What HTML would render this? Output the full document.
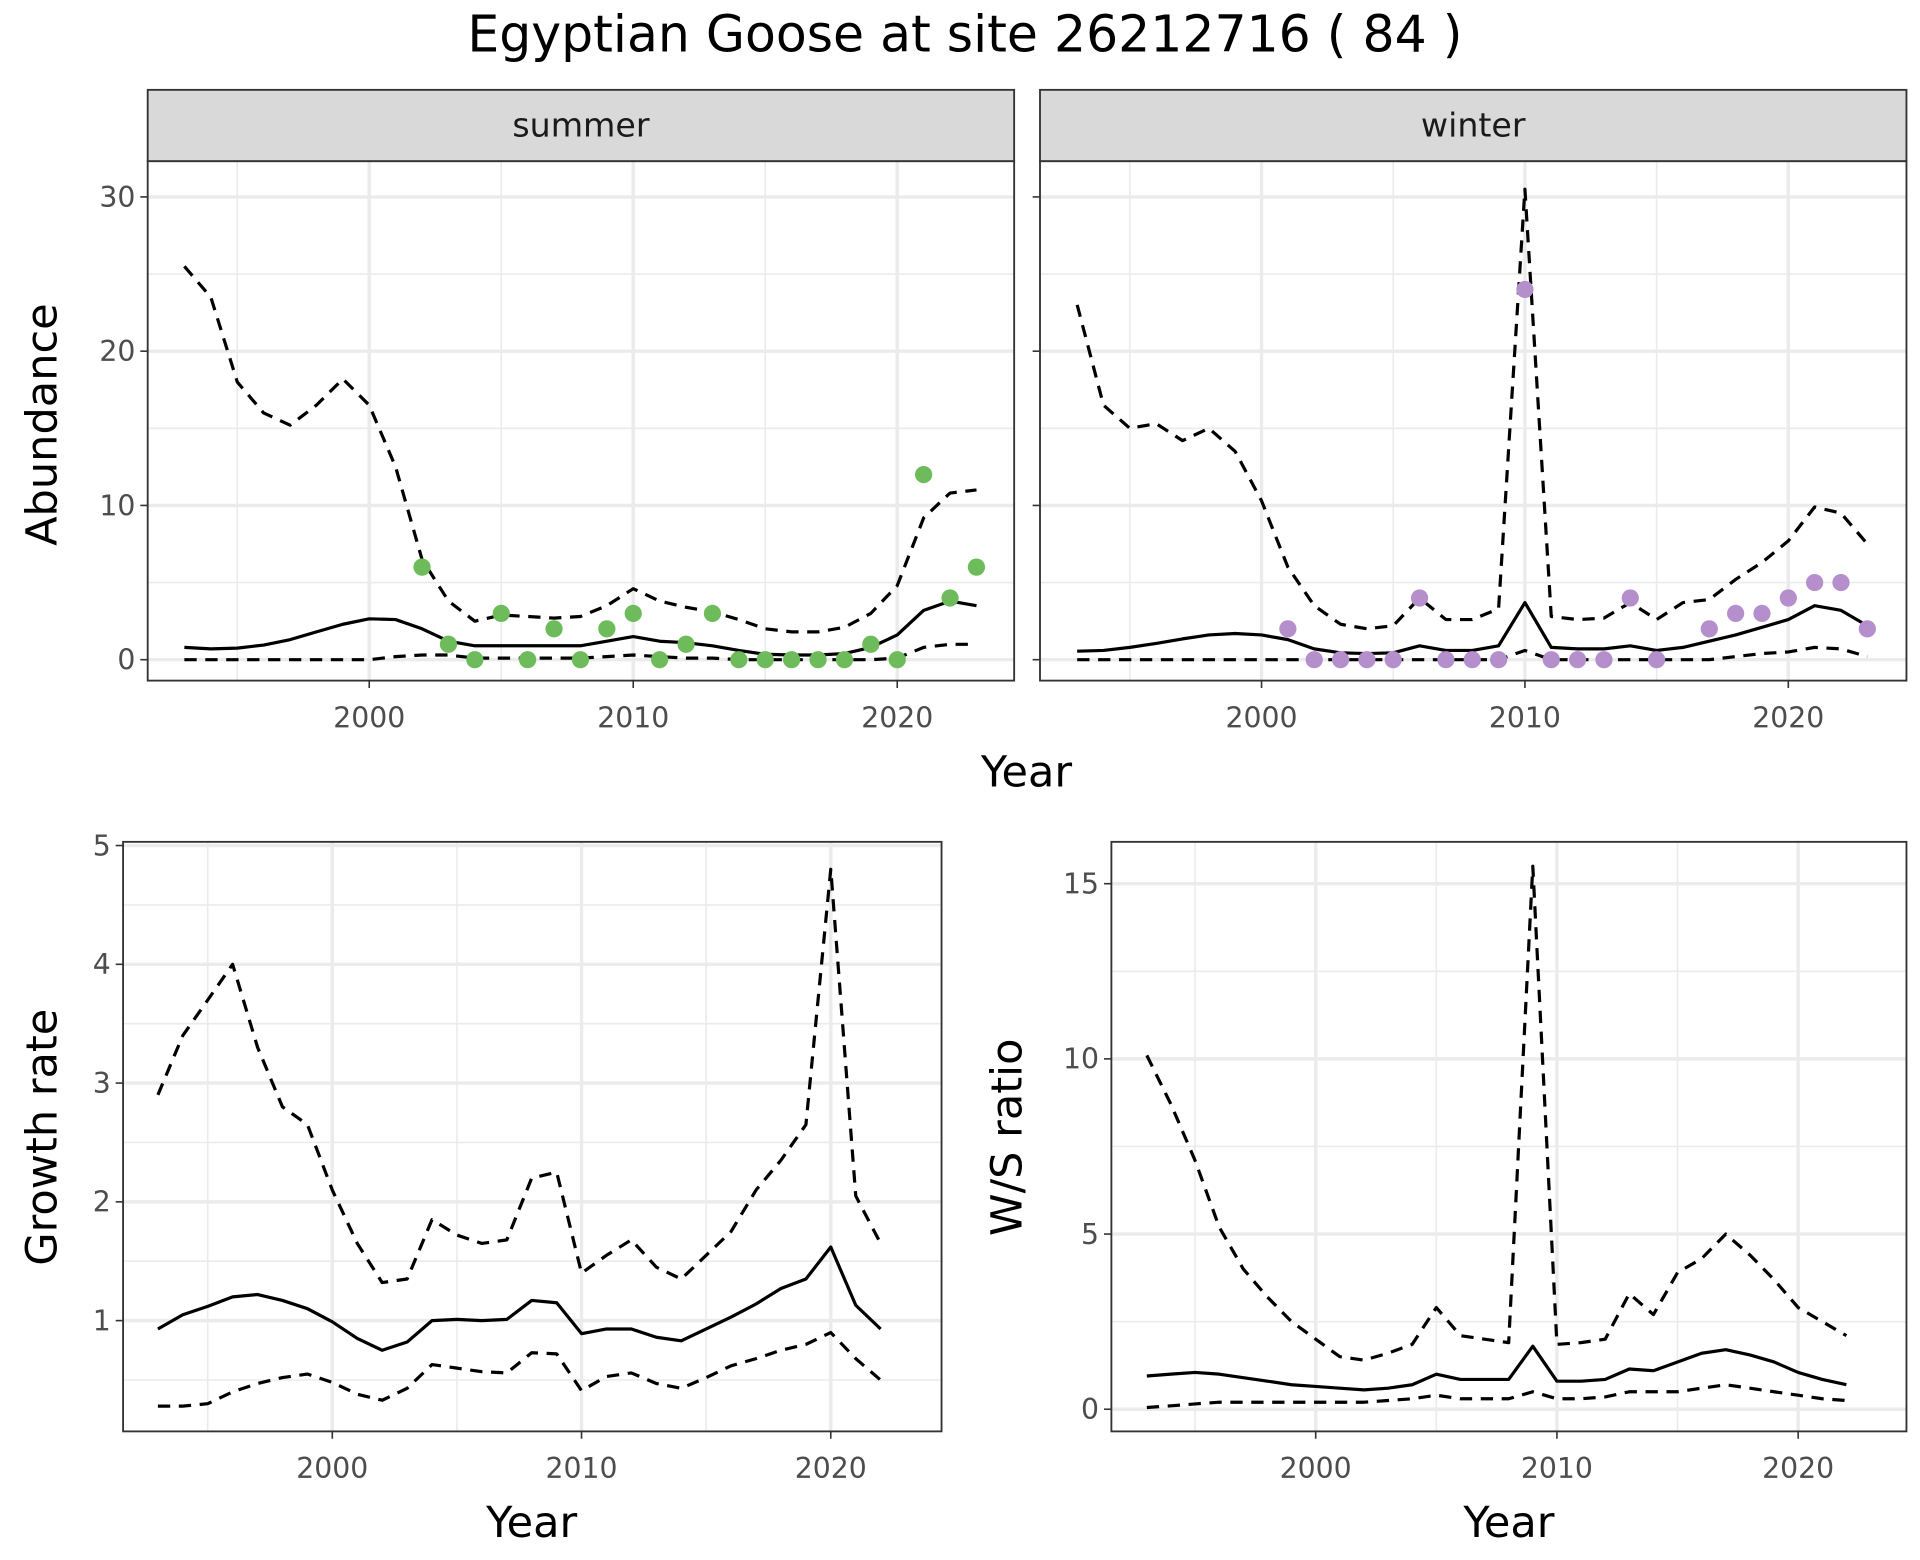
<!DOCTYPE html>
<html><head><meta charset="utf-8"><style>
html,body{margin:0;padding:0;background:#fff}
svg{display:block;font-family:"DejaVu Sans","Liberation Sans",sans-serif}
</style></head><body>
<svg id="chart" width="1920" height="1560" viewBox="0 0 1560 1267.5" xmlns="http://www.w3.org/2000/svg">
<rect width="1560" height="1267.5" fill="#fff"/>
<text x="784" y="42" font-size="41" text-anchor="middle" fill="#000">Egyptian Goose at site 26212716 ( 84 )</text>
</svg>
<script>
// ---- data ----
const yearsAbund = [1993,1994,1995,1996,1997,1998,1999,2000,2001,2002,2003,2004,2005,2006,2007,2008,2009,2010,2011,2012,2013,2014,2015,2016,2017,2018,2019,2020,2021,2022,2023];
const summerUpper = [25.5,23.5,18,16,15.2,16.5,18.2,16.5,12.5,6.5,3.8,2.5,2.9,2.8,2.7,2.8,3.5,4.6,3.8,3.4,3.1,2.6,2.0,1.8,1.8,2.1,3.0,4.8,9.2,10.8,11.0];
const summerMean = [0.8,0.7,0.75,0.95,1.3,1.8,2.3,2.65,2.6,2.0,1.2,0.9,0.9,0.9,0.9,0.9,1.2,1.5,1.2,1.1,0.9,0.6,0.35,0.3,0.3,0.4,0.8,1.6,3.2,3.8,3.5];
const summerLower = [0,0,0,0,0,0,0,0,0.2,0.3,0.3,0.1,0.1,0.1,0.1,0.1,0.2,0.3,0.2,0.1,0.1,0,0,0,0,0,0,0.1,0.8,1.0,1.0];
const summerPtYears = [2002,2003,2004,2005,2006,2007,2008,2009,2010,2011,2012,2013,2014,2015,2016,2017,2018,2019,2020,2021,2022,2023];
const summerPtVals = [6,1,0,3,0,2,0,2,3,0,1,3,0,0,0,0,0,1,0,12,4,6];
const winterUpper = [23,16.5,15,15.3,14.2,15,13.5,10.3,6,3.5,2.3,2,2.2,4,2.6,2.6,3.3,30.5,2.8,2.6,2.7,3.7,2.6,3.7,3.9,5.2,6.3,7.7,9.9,9.5,7.5];
const winterMean = [0.55,0.6,0.8,1.05,1.35,1.6,1.7,1.6,1.3,0.7,0.45,0.4,0.45,0.9,0.6,0.6,0.9,3.7,0.8,0.7,0.7,0.9,0.6,0.8,1.2,1.6,2.1,2.6,3.5,3.2,2.2];
const winterLower = [0,0,0,0,0,0,0,0,0,0,0,0,0,0,0,0,0,0.6,0,0,0,0,0,0,0,0.2,0.4,0.5,0.8,0.7,0.2];
const winterPtYears = [2001,2002,2003,2004,2005,2006,2007,2008,2009,2010,2011,2012,2013,2014,2015,2017,2018,2019,2020,2021,2022,2023];
const winterPtVals = [2,0,0,0,0,4,0,0,0,24,0,0,0,4,0,2,3,3,4,5,5,2];
const yearsRate = [1993,1994,1995,1996,1997,1998,1999,2000,2001,2002,2003,2004,2005,2006,2007,2008,2009,2010,2011,2012,2013,2014,2015,2016,2017,2018,2019,2020,2021,2022];
const growthUpper = [2.9,3.4,3.7,4.0,3.3,2.8,2.65,2.1,1.65,1.32,1.35,1.85,1.72,1.65,1.68,2.2,2.25,1.4,1.55,1.68,1.45,1.35,1.55,1.75,2.1,2.35,2.65,4.8,2.05,1.65];
const growthMean = [0.93,1.05,1.12,1.2,1.22,1.17,1.1,0.99,0.85,0.75,0.82,1.0,1.01,1.0,1.01,1.17,1.15,0.89,0.93,0.93,0.86,0.83,0.93,1.03,1.14,1.27,1.35,1.62,1.13,0.93];
const growthLower = [0.28,0.28,0.3,0.4,0.47,0.52,0.55,0.48,0.38,0.33,0.43,0.63,0.6,0.57,0.56,0.73,0.72,0.41,0.53,0.56,0.47,0.43,0.52,0.62,0.68,0.75,0.8,0.9,0.68,0.5];
const wsUpper = [10.1,8.7,7.1,5.2,4.0,3.2,2.5,2.0,1.5,1.4,1.6,1.85,2.9,2.1,2.0,1.9,15.5,1.85,1.9,2.0,3.3,2.7,3.9,4.3,5.0,4.4,3.7,2.9,2.5,2.1];
const wsMean = [0.95,1.0,1.05,1.0,0.9,0.8,0.7,0.65,0.6,0.55,0.6,0.7,1.0,0.85,0.85,0.85,1.8,0.8,0.8,0.85,1.15,1.1,1.35,1.6,1.7,1.55,1.35,1.05,0.85,0.7];
const wsLower = [0.05,0.1,0.15,0.2,0.2,0.2,0.2,0.2,0.2,0.2,0.25,0.3,0.4,0.3,0.3,0.3,0.5,0.3,0.3,0.35,0.5,0.5,0.5,0.6,0.7,0.6,0.5,0.4,0.3,0.25];
const xTicks = [2000,2010,2020];
const xMinor = [1995,2005,2015];
const abundTicks = [0,10,20,30];
const abundMinor = [5,15,25];
const growthTicks = [1,2,3,4,5];
const growthMinor = [0.5,1.5,2.5,3.5,4.5];
const wsTicks = [0,5,10,15];
const wsMinor = [2.5,7.5,12.5];

const NS = "http://www.w3.org/2000/svg";
const svg = document.getElementById('chart');
const TICK_FS = 23;
function mk(tag, attrs, parent, text){
  const e = document.createElementNS(NS, tag);
  for (const k in attrs) e.setAttribute(k, attrs[k]);
  if (text !== undefined) e.textContent = text;
  (parent||svg).appendChild(e);
  return e;
}
function scale(d0,d1,r0,r1){ return v => r0 + (v-d0)*(r1-r0)/(d1-d0); }

function panel(name, box, xs, ys, yT, yMin, showYLabels){
  const g = mk('g', {});
  
  
  mk('rect', {x:box.x0, y:box.y0, width:box.x1-box.x0, height:box.y1-box.y0, fill:'#fff'}, g);
  yMin.forEach(v => { const l = mk('line', {x1:box.x0, x2:box.x1, y1:ys(v), y2:ys(v), stroke:'#ebebeb', 'stroke-width':1.3}, g);   });
  xMinor.forEach(v => { const l = mk('line', {x1:xs(v), x2:xs(v), y1:box.y0, y2:box.y1, stroke:'#ebebeb', 'stroke-width':1.3}, g);   });
  yT.forEach(v => { const l = mk('line', {x1:box.x0, x2:box.x1, y1:ys(v), y2:ys(v), stroke:'#ebebeb', 'stroke-width':2.8}, g);   });
  xTicks.forEach(v => { const l = mk('line', {x1:xs(v), x2:xs(v), y1:box.y0, y2:box.y1, stroke:'#ebebeb', 'stroke-width':2.8}, g);   });
  xTicks.forEach(v => {
    mk('line', {x1:xs(v), x2:xs(v), y1:box.y1, y2:box.y1+6, stroke:'#333', 'stroke-width':1.3}, g);
    const t = mk('text', {x:xs(v), y:box.y1+38, 'font-size':TICK_FS, fill:'#4d4d4d', 'text-anchor':'middle'}, g, String(v));
     
  });
  yT.forEach(v => {
    mk('line', {x1:box.x0-6, x2:box.x0, y1:ys(v), y2:ys(v), stroke:'#333', 'stroke-width':1.3}, g);
    if (showYLabels) {
      const t = mk('text', {x:box.x0-10, y:ys(v)+8, 'font-size':TICK_FS, fill:'#4d4d4d', 'text-anchor':'end'}, g, String(v));
       
    }
  });
  return g;
}
function line(g, name, xsArr, vals, xs, ys, dashed){
  const d = xsArr.map((x,i) => (i?'L':'M') + xs(x).toFixed(1) + ',' + ys(vals[i]).toFixed(1)).join(' ');
  const p = mk('path', {d:d, fill:'none', stroke:'#000', 'stroke-width':2.6, 'stroke-dasharray': dashed ? '10,7' : 'none', 'stroke-linejoin':'round'}, g);
  
  
}
function points(g, name, xsArr, vals, xs, ys, color){
  xsArr.forEach((x,i) => {
    const c = mk('circle', {cx:xs(x), cy:ys(vals[i]), r:7, fill:color}, g);
    
    
  });
}
function border(g, box){
  mk('rect', {x:box.x0, y:box.y0, width:box.x1-box.x0, height:box.y1-box.y0, fill:'none', stroke:'#333', 'stroke-width':1.5}, g);
}
function strip(box, label, name){
  const g = mk('g', {});
  
  
  mk('rect', {x:box.x0, y:73, width:box.x1-box.x0, height:58, fill:'#d9d9d9', stroke:'#333', 'stroke-width':1.5}, g);
  mk('text', {x:(box.x0+box.x1)/2, y:111, 'font-size':27, fill:'#1a1a1a', 'text-anchor':'middle'}, g, label);
}

// Summer
const sBox = {x0:120, x1:824, y0:131, y1:553};
const sx = scale(2000, 2020, 300, 729);
const ay = scale(0, 30, 536, 160);
strip(sBox, 'summer', 'strip-summer');
const gs = panel('panel-summer', sBox, sx, ay, abundTicks, abundMinor, true);
line(gs, 'summer-upper-line', yearsAbund, summerUpper, sx, ay, true);
line(gs, 'summer-lower-line', yearsAbund, summerLower, sx, ay, true);
line(gs, 'summer-mean-line', yearsAbund, summerMean, sx, ay, false);
points(gs, 'summer-point', summerPtYears, summerPtVals, sx, ay, '#6dbb5a');
border(gs, sBox);

// Winter
const wBox = {x0:845, x1:1549, y0:131, y1:553};
const wx = scale(2000, 2020, 1025, 1453);
strip(wBox, 'winter', 'strip-winter');
const gw = panel('panel-winter', wBox, wx, ay, abundTicks, abundMinor, false);
line(gw, 'winter-upper-line', yearsAbund, winterUpper, wx, ay, true);
line(gw, 'winter-lower-line', yearsAbund, winterLower, wx, ay, true);
line(gw, 'winter-mean-line', yearsAbund, winterMean, wx, ay, false);
points(gw, 'winter-point', winterPtYears, winterPtVals, wx, ay, '#b48fcb');
border(gw, wBox);

// Growth
const gBox = {x0:100, x1:765, y0:684, y1:1163};
const gx = scale(2000, 2020, 270, 675);
const gy = scale(1, 5, 1073, 687);
const gg = panel('panel-growth-rate', gBox, gx, gy, growthTicks, growthMinor, true);
line(gg, 'growth-upper-line', yearsRate, growthUpper, gx, gy, true);
line(gg, 'growth-lower-line', yearsRate, growthLower, gx, gy, true);
line(gg, 'growth-mean-line', yearsRate, growthMean, gx, gy, false);
border(gg, gBox);

// W/S
const rBox = {x0:903, x1:1549, y0:684, y1:1163};
const rx = scale(2000, 2020, 1069, 1461);
const ry = scale(0, 15, 1145, 718);
const gr = panel('panel-ws-ratio', rBox, rx, ry, wsTicks, wsMinor, true);
line(gr, 'ws-upper-line', yearsRate, wsUpper, rx, ry, true);
line(gr, 'ws-lower-line', yearsRate, wsLower, rx, ry, true);
line(gr, 'ws-mean-line', yearsRate, wsMean, rx, ry, false);
border(gr, rBox);

// axis titles
function title(txt, x, y, rot, name){
  const t = mk('text', {x:x, y:y, 'font-size':35, fill:'#000', 'text-anchor':'middle', transform: rot ? `rotate(-90 ${x} ${y})` : ''}, svg, txt);
  
  
}
title('Year', 834, 639, false, 'x-axis-title-top');
title('Abundance', 46, 345, true, 'y-axis-title-abundance');
title('Year', 432, 1249, false, 'x-axis-title-growth');
title('Growth rate', 46, 924, true, 'y-axis-title-growth');
title('Year', 1226, 1249, false, 'x-axis-title-ws');
title('W/S ratio', 830, 924, true, 'y-axis-title-ws');
</script>
</body></html>
